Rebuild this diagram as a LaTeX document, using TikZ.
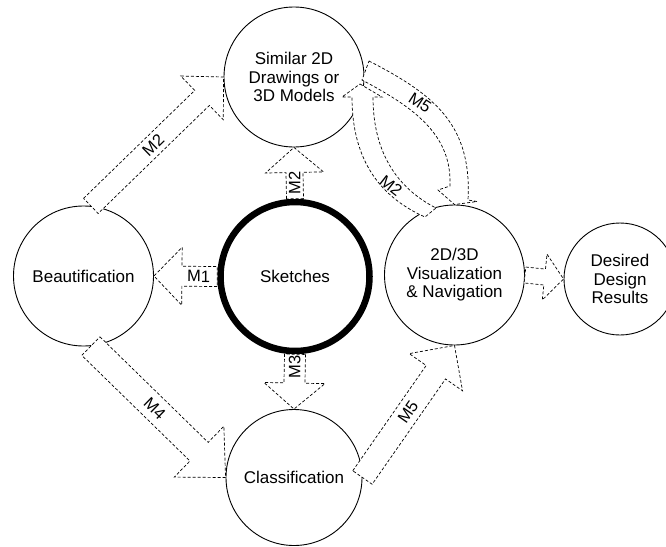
\documentclass[tikz,border=0pt]{standalone}
\usepackage{fontspec}
\setmainfont{Liberation Sans}
\usetikzlibrary{calc}
\pgfdeclarelayer{fg}
\pgfsetlayers{main,fg}
\tikzset{
  circ/.style={circle, draw=black, line width=0.9pt, fill=white, inner sep=0pt,
    align=center, font=\fontsize{17pt}{18.5pt}\selectfont},
  ring/.style={circ, line width=6.5pt},
  arr/.style={draw=black, fill=white, line width=0.7pt, dash pattern=on 3pt off 2pt},
  lbl/.style={inner sep=0pt, font=\fontsize{16.5pt}{18pt}\selectfont}
}
% #1 name, #2 tail, #3 tip, #4 shaft half width, #5 head half width, #6 head length, #7 label options, #8 label
\newcommand\fatarr[8]{%
  \coordinate (#1b) at ($(#3)!#6!(#2)$);
  \draw[arr] ($(#2)!#4!90:(#3)$) -- ($(#1b)!#4!90:(#3)$) -- ($(#1b)!#5!90:(#3)$) -- (#3)
    -- ($(#1b)!#5!-90:(#3)$) -- ($(#1b)!#4!-90:(#3)$) -- ($(#2)!#4!-90:(#3)$) -- cycle;
  \path (#2) -- (#1b) node[lbl, #7] (#1) {#8};
}
\begin{document}
\begin{tikzpicture}[x=1pt, y=1pt]
\useasboundingbox (0,0) rectangle (666,-546);
% circles
\node[circ, minimum size=140pt] (sim) at (294,-77) {Similar 2D\\Drawings or\\3D Models};
\node[circ, minimum size=140pt] (beau) at (83.5,-276) {Beautification};
\node[ring, minimum size=149pt] (sk) at (295,-276.5) {Sketches};
\node[circ, minimum size=140pt] (vis) at (454.5,-275) {2D/3D\\Visualization\\\& Navigation};
\node[circ, minimum size=136pt] (cls) at (294,-477.5) {Classification};
\node[circ, minimum size=112pt] (des) at (620,-279) {Desired\\Design\\Results};
\begin{pgfonlayer}{fg}
\fatarr{lm2a}{beau.84}{sim.180}{10.5pt}{30.5pt}{30pt}{pos=0.56, sloped}{M2}
\fatarr{lm1}{sk.180}{beau.0}{10pt}{29pt}{28pt}{pos=0.53, sloped}{M1}
\fatarr{lm2b}{sk.90}{sim.270}{8.5pt}{29pt}{25pt}{pos=0.6, rotate=90}{M2}
\fatarr{lm3}{sk.270}{cls.90}{10.5pt}{30.5pt}{26pt}{pos=0.45, rotate=90}{M3}
\fatarr{lm4}{beau.-84}{cls.180}{13pt}{35.5pt}{37pt}{pos=0.59, sloped}{M4}
\fatarr{lm5a}{cls.0}{vis.270}{11.8pt}{32.5pt}{32.6pt}{pos=0.62, sloped}{M5}
\fatarr{lvd}{vis.0}{des.180}{8pt}{23pt}{19pt}{pos=0.5}{}
% curved M5: Similar -> Visualization
\draw[arr] (369,-61) .. controls (435,-95) and (472,-125) .. (468,-200) -- (477,-201.5)
  -- (vis.north) -- (438,-190) -- (450,-186) .. controls (452,-135) and (415,-108) .. (362,-80) -- cycle;
\node[lbl, rotate=-33] (lm5b) at (420,-103) {M5};
% curved M2: Visualization -> Similar
\draw[arr] (360,-84) -- (382,-97) -- (373,-97) .. controls (373,-150) and (395,-187) .. (436,-208)
  -- (425,-217) .. controls (380,-197) and (352,-160) .. (352,-97) -- (342,-97) -- cycle;
\node[lbl, rotate=-38] (lm2c) at (391,-186) {M2};
\end{pgfonlayer}
\end{tikzpicture}
\end{document}
